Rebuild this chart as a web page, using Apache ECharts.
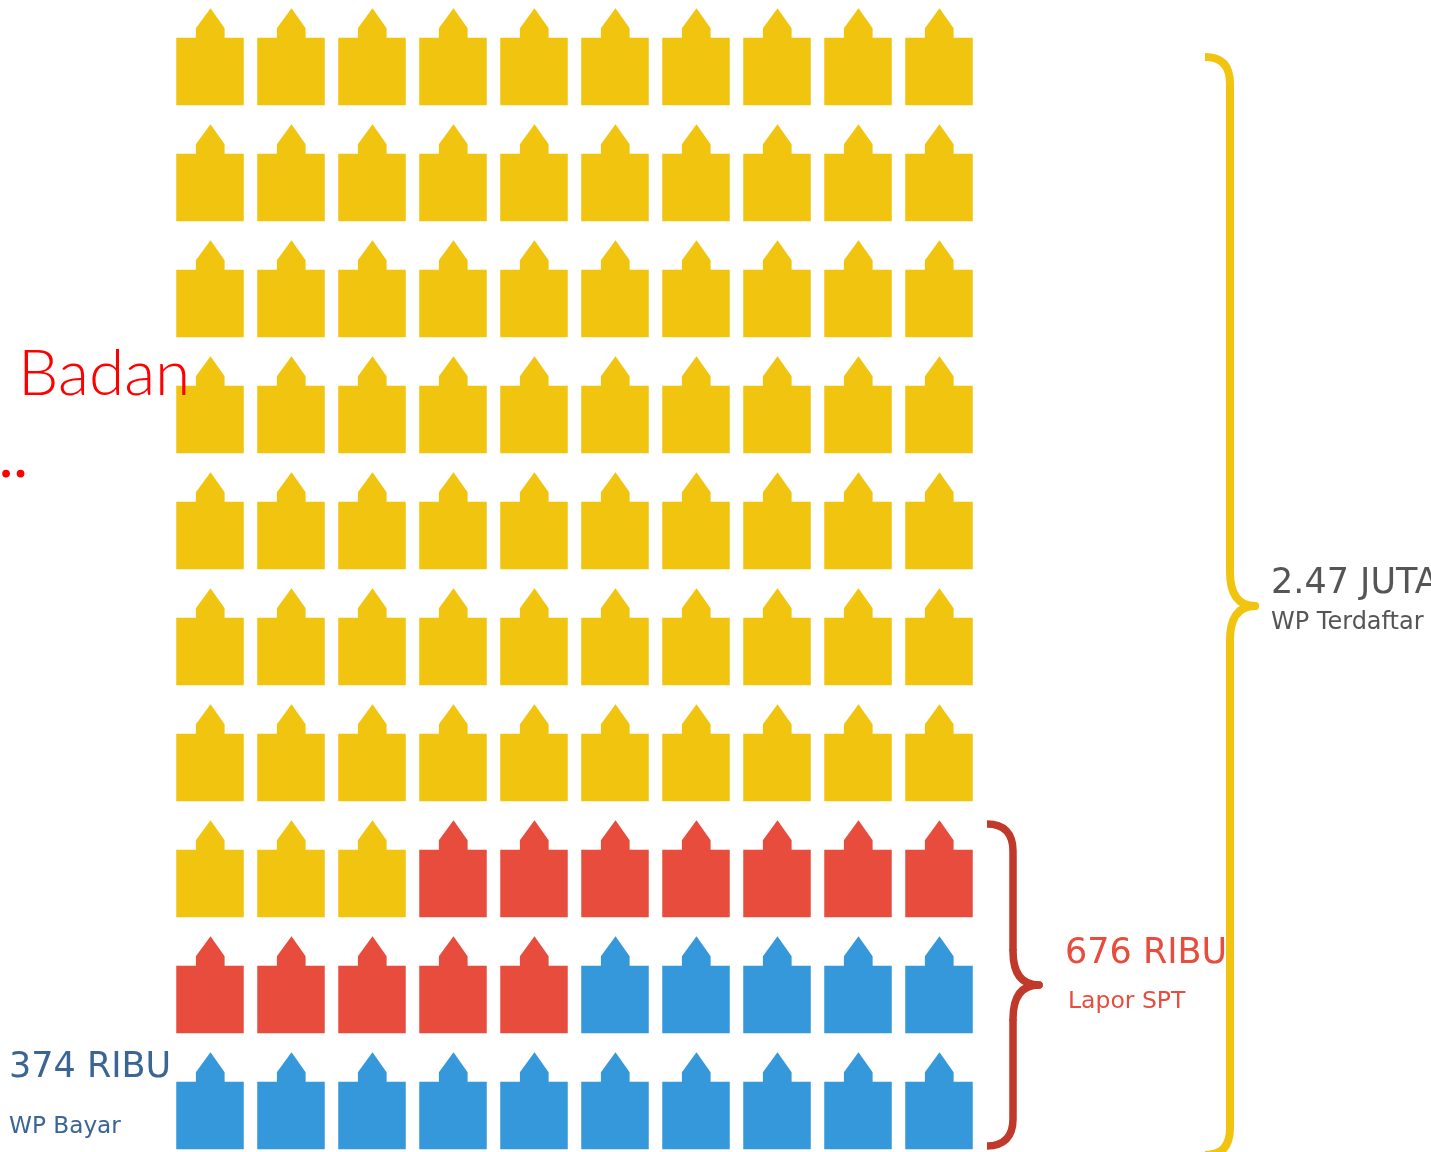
<!DOCTYPE html>
<html>
<head>
<meta charset="utf-8">
<style>
  html, body { margin: 0; padding: 0; background: #fff; overflow: hidden; }
  #chart { width: 1431px; height: 1152px; }
</style>
<script src="https://cdn.jsdelivr.net/npm/echarts@6/dist/echarts.min.js"></script>
</head>
<body>
<div id="chart"></div>
<script>
// icons per row, top row first (each row holds 10 icons)
const yellowPerRow = [10, 10, 10, 10, 10, 10, 10, 3, 0, 0]
const redPerRow = [0, 0, 0, 0, 0, 0, 0, 7, 5, 0]
const bluePerRow = [0, 0, 0, 0, 0, 0, 0, 0, 5, 10]

const seriesNames = ['WP Terdaftar', 'Lapor SPT', 'WP Bayar']
const seriesColors = ['#f1c40f', '#e74c3c', '#3498db']

const housePath = 'path://M0 29.4H19.5V20L34 0L48 20V29.4H67V96.7H0Z'

// turn the per row counts into [column, row] cells, filled left to right
const cellsFor = (counts, before) => {
  const cells = []
  counts.forEach((count, i) => {
    const start = before[i]
    for (let c = 1; c <= count; c++) {
      cells.push([start + c, yellowPerRow.length - i])
    }
  })
  return cells
}

const noOffset = yellowPerRow.map(() => 0)
const yellowCells = cellsFor(yellowPerRow, noOffset)
const redCells = cellsFor(redPerRow, yellowPerRow)
const blueCells = cellsFor(bluePerRow, yellowPerRow.map((v, i) => v + redPerRow[i]))

const label = (text, x, y, size, color, extra) => ({
  type: 'text',
  x: x,
  y: y,
  z: 10,
  style: Object.assign({
    text: text,
    fill: color,
    font: size + 'px "DejaVu Sans"',
    verticalAlign: 'bottom'
  }, extra)
})

// curly brace opening to the left, made of curves and straight runs
const brace = (endX, spineX, tipX, topY, tipY, botY, color, width) => {
  const style = { fill: null, stroke: color, lineWidth: width, lineCap: 'butt' }
  const tipStyle = Object.assign({}, style, { lineCap: 'round' })
  const r = 27
  const t = 34
  const curve = (x1, y1, x2, y2, cx1, cy1, cx2, cy2, s) => ({
    type: 'bezierCurve',
    z: 5,
    shape: { x1, y1, x2, y2, cpx1: cx1, cpy1: cy1, cpx2: cx2, cpy2: cy2 },
    style: s
  })
  const run = (y1, y2) => ({
    type: 'line',
    z: 5,
    shape: { x1: spineX, y1, x2: spineX, y2 },
    style: style
  })
  return [
    curve(endX, topY, spineX, topY + r, endX + 17, topY, spineX, topY + 9, style),
    run(topY + r, tipY - t),
    curve(spineX, tipY - t, tipX, tipY, spineX, tipY - 12, spineX + 8, tipY, tipStyle),
    curve(spineX, tipY + t, tipX, tipY, spineX, tipY + 12, spineX + 8, tipY, tipStyle),
    run(tipY + t, botY - r),
    curve(endX, botY, spineX, botY - r, endX + 17, botY, spineX, botY - 9, style)
  ]
}

const makeSeries = (i, cells) => ({
  name: seriesNames[i],
  type: 'scatter',
  symbol: housePath,
  symbolSize: [67.5, 97],
  symbolKeepAspect: false,
  itemStyle: { color: seriesColors[i], opacity: 1 },
  silent: true,
  data: cells
})

const chart = echarts.init(document.getElementById('chart'), null, { renderer: 'canvas' })

chart.setOption({
  animation: false,
  backgroundColor: '#fff',
  grid: { left: 169.5, width: 810, top: -1.35, height: 1160, outerBoundsMode: 'none' },
  xAxis: { type: 'value', min: 0.5, max: 10.5, show: false },
  yAxis: { type: 'value', min: 0.5, max: 10.5, show: false },
  series: [
    makeSeries(0, yellowCells),
    makeSeries(1, redCells),
    makeSeries(2, blueCells)
  ],
  graphic: [
    ...brace(1205, 1230, 1255, 57, 606, 1155, '#f1c40f', 8),
    ...brace(987, 1013, 1039, 824, 985, 1146, '#c0392b', 7.5),
    label('Badan', 18, 406, 64, '#ff0000', { font: '300 64px Lato' }),
    label('...', -16, 488, 62, '#ff0000', { font: '400 62px Lato' }),
    label('2.47 JUTA', 1271, 601, 35, '#555555'),
    label('WP Terdaftar', 1271, 635, 24, '#555555'),
    label('676 RIBU', 1065, 971, 35, '#e74c3c'),
    label('Lapor SPT', 1068, 1014, 23.5, '#e74c3c'),
    label('374 RIBU', 9, 1085, 35, '#3a6595'),
    label('WP Bayar', 9, 1138, 23.2, '#3a6595')
  ]
})
</script>
</body>
</html>
